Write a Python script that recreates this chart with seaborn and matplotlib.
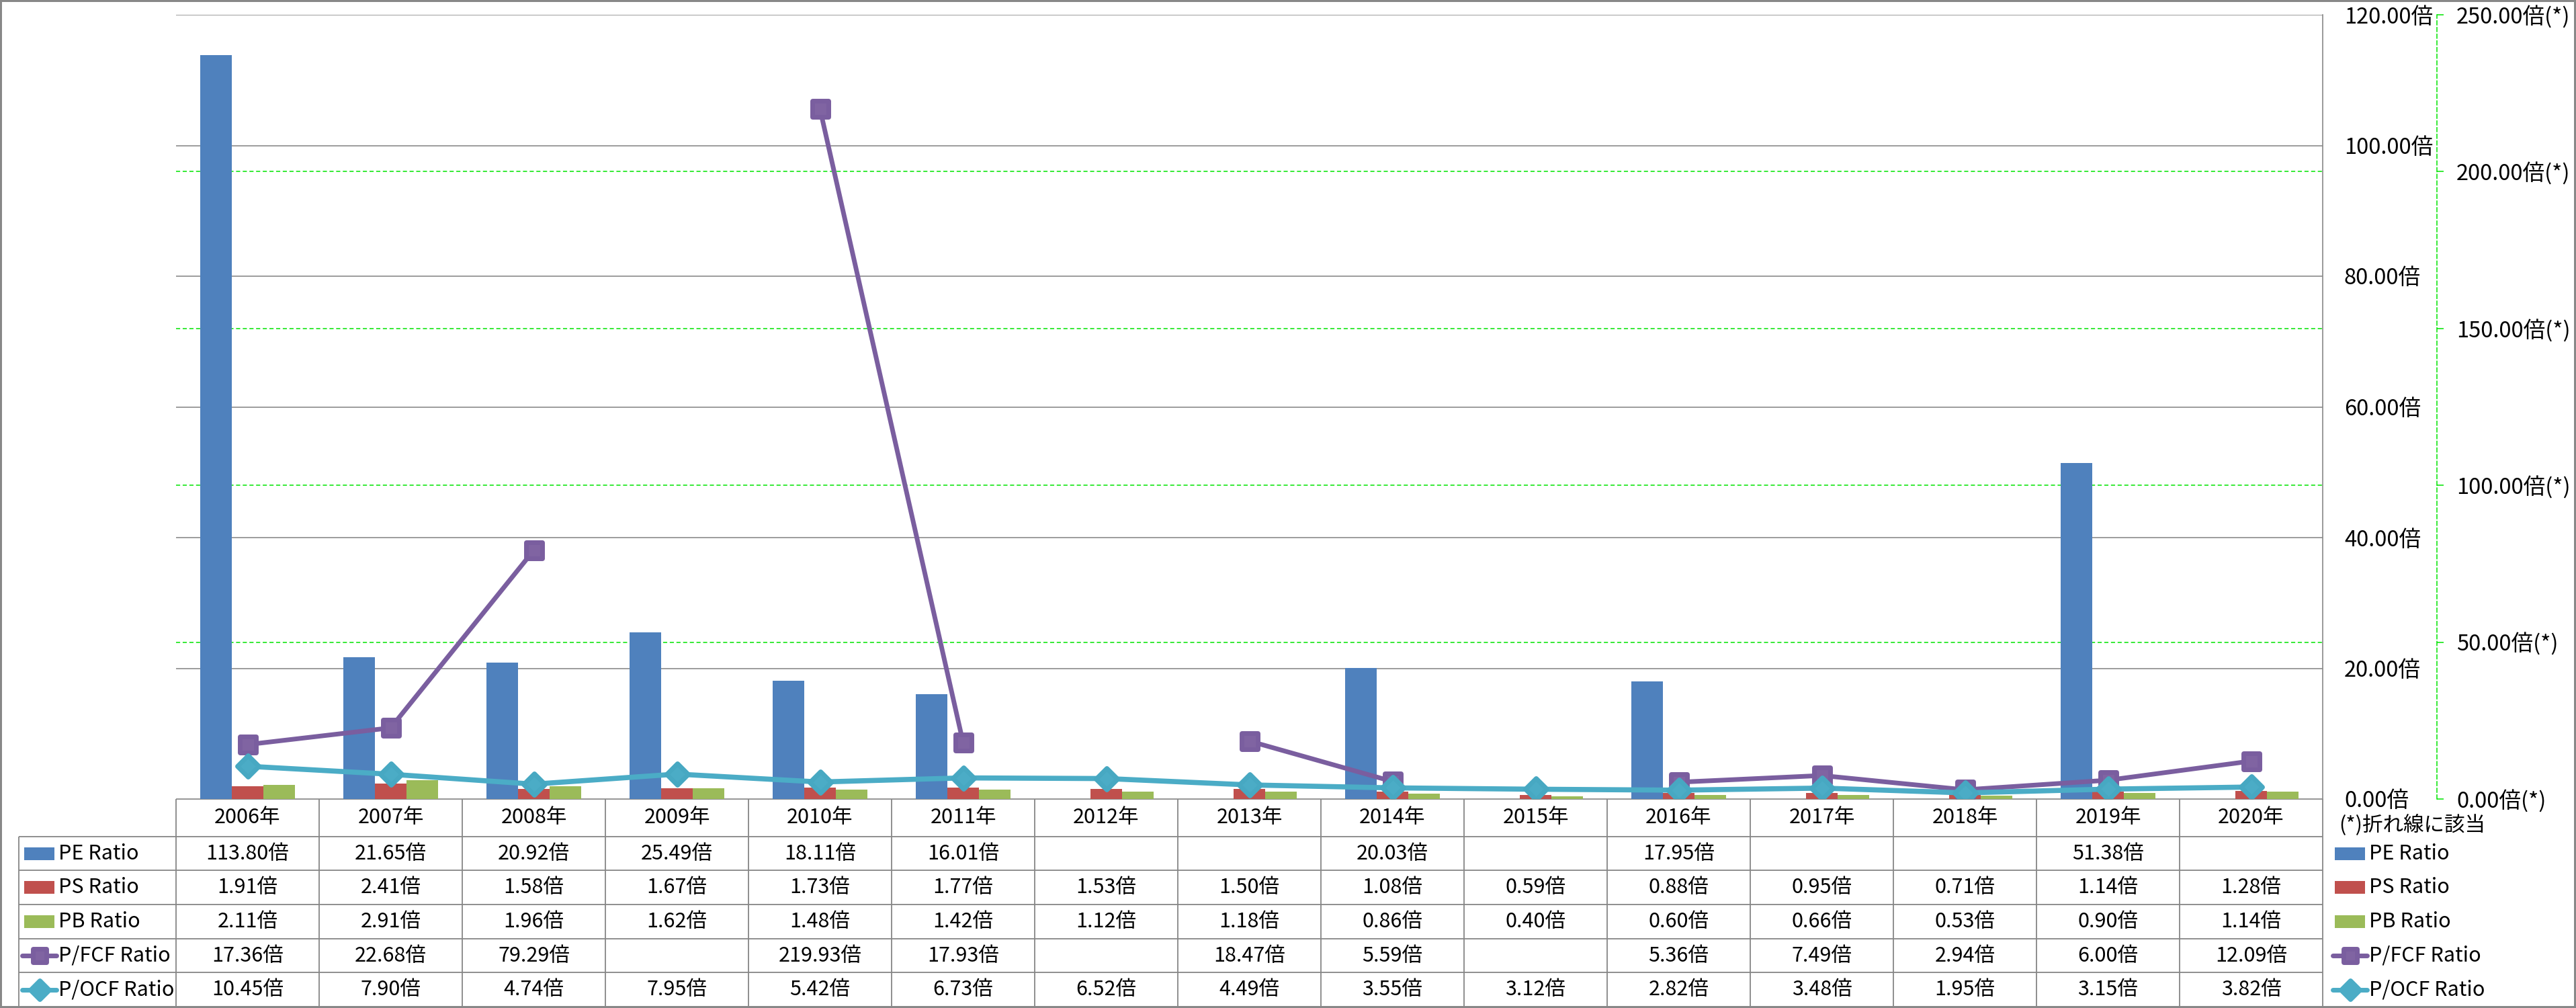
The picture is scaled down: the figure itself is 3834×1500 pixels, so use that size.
import numpy as np
import pandas as pd
import matplotlib
matplotlib.use("Agg")
import matplotlib.pyplot as plt
import seaborn as sns
from matplotlib.markers import MarkerStyle
from matplotlib.patches import Rectangle

# ---------------- data ----------------
years = ["2006年", "2007年", "2008年", "2009年", "2010年", "2011年", "2012年", "2013年",
         "2014年", "2015年", "2016年", "2017年", "2018年", "2019年", "2020年"]
nan = np.nan
pe_ratio = [113.80, 21.65, 20.92, 25.49, 18.11, 16.01, nan, nan, 20.03, nan, 17.95, nan, nan, 51.38, nan]
ps_ratio = [1.91, 2.41, 1.58, 1.67, 1.73, 1.77, 1.53, 1.50, 1.08, 0.59, 0.88, 0.95, 0.71, 1.14, 1.28]
pb_ratio = [2.11, 2.91, 1.96, 1.62, 1.48, 1.42, 1.12, 1.18, 0.86, 0.40, 0.60, 0.66, 0.53, 0.90, 1.14]
pfcf_ratio = [17.36, 22.68, 79.29, nan, 219.93, 17.93, nan, 18.47, 5.59, nan, 5.36, 7.49, 2.94, 6.00, 12.09]
pocf_ratio = [10.45, 7.90, 4.74, 7.95, 5.42, 6.73, 6.52, 4.49, 3.55, 3.12, 2.82, 3.48, 1.95, 3.15, 3.82]

series_names = ["PE Ratio", "PS Ratio", "PB Ratio", "P/FCF Ratio", "P/OCF Ratio"]
series_colors = ["#4F81BD", "#C0504D", "#9BBB59", "#8064A2", "#4BACC6"]
left_ticks = [0, 20, 40, 60, 80, 100, 120]
right_ticks = [0, 50, 100, 150, 200, 250]
note_text = "(*)折れ線に該当"

# ---------------- style ----------------
sns.set_theme(style="white")
plt.rcParams["font.family"] = ["Noto Sans CJK JP", "DejaVu Sans"]
FS_AX = 23.5
FS_TB = 22
GRAY = "#868686"
GREEN = "#00E400"

W, H = 3834, 1500
fig = plt.figure(figsize=(W / 100, H / 100), dpi=100)
fig.patch.set_facecolor("white")

def fx(px):
    return px / W

def fy(py):
    return 1 - py / H

L, R, T, B = 262, 3457, 22, 1189
ax = fig.add_axes([fx(L), fy(B), fx(R) - fx(L), fy(T) - fy(B)])
ax.patch.set_visible(False)

# ---------------- bars ----------------
bar_df = pd.DataFrame({
    "year": years * 3,
    "series": [n for n in series_names[:3] for _ in years],
    "value": pe_ratio + ps_ratio + pb_ratio,
}).dropna()

sns.barplot(data=bar_df, x="year", y="value", hue="series", order=years,
            hue_order=series_names[:3], palette=series_colors[:3], width=0.665,
            saturation=1, errorbar=None, linewidth=0, legend=False, ax=ax, zorder=3)

for v in left_ticks:
    ax.axhline(v, color=GRAY, lw=1.15, zorder=1)
for v in right_ticks[1:-1]:
    ax.axhline(v * left_ticks[-1] / right_ticks[-1], color=GREEN, lw=1.1,
               ls=(0, (4, 2.5)), zorder=1.5)

ax.set_xlim(-0.5, len(years) - 0.5)
ax.set_ylim(left_ticks[0], left_ticks[-1])
ax.set_xticks([])
ax.set_xlabel("")
ax.set_ylabel("")

# ---------------- lines (secondary axis) ----------------
ax2 = ax.twinx()
ax2.set_ylim(right_ticks[0], right_ticks[-1])
ax2.set_yticks(right_ticks)
ax2.set_yticklabels([f"{v:.2f}倍(*)" for v in right_ticks])
for s in ["left", "top", "bottom"]:
    ax2.spines[s].set_visible(False)
ax2.spines["right"].set_position(("axes", (3627 - L) / (R - L)))
ax2.spines["right"].set_color(GREEN)
ax2.spines["right"].set_linestyle((0, (4, 2.5)))
ax2.spines["right"].set_linewidth(1.1)
ax2.tick_params(axis="y", direction="out", length=7, width=1.1, color=GREEN,
                pad=14, labelsize=FS_AX, labelcolor="black")

# primary axis labels on the right (after twinx, which resets them to the left)
ax.yaxis.tick_right()
ax.set_yticks(left_ticks)
ax.set_yticklabels([f"{v:.2f}倍" for v in left_ticks])
ax.tick_params(axis="y", which="both", left=False, labelleft=False, right=True,
               labelright=True, length=0, pad=23, labelsize=FS_AX, labelcolor="black")
for s in ["left", "top", "bottom"]:
    ax.spines[s].set_visible(False)
ax.spines["right"].set_visible(True)
ax.spines["right"].set_color(GRAY)
ax.spines["right"].set_linewidth(1.2)

xpos = np.arange(len(years))
sq = MarkerStyle("s", joinstyle="round")
dm = MarkerStyle("D", joinstyle="round")
ax2.plot(xpos, np.array(pfcf_ratio), color="#7A5E9F", lw=5, marker=sq, ms=17, mew=5,
         mfc=series_colors[3], mec="#7A5E9F", zorder=4, solid_joinstyle="round")
ax2.plot(xpos, np.array(pocf_ratio), color=series_colors[4], lw=5.5, marker=dm, ms=16, mew=5,
         mfc=series_colors[4], mec="#47A8C2", zorder=5, solid_joinstyle="round")

# ---------------- data table ----------------
CW = (R - L) / len(years)
unit_px = (1498 - B) / 6.1
header_h = 1.1
tax = fig.add_axes([0, 0, 1, fy(B)])
tax.set_xlim(-0.5 - L / CW, -0.5 + (W - L) / CW)
tax.set_ylim((H - B) / unit_px, 0)
tax.axis("off")
tax.patch.set_visible(False)

x_lab = -0.5 - (L - 28) / CW
x_end = len(years) - 0.5
n_rows = len(series_names)
y_bottom = header_h + n_rows

tax.hlines(0, -0.5, x_end, color=GRAY, lw=1.3)
for k in range(n_rows + 1):
    tax.hlines(header_h + k, x_lab, x_end, color=GRAY, lw=1.3)
for i in range(len(years) + 1):
    tax.vlines(-0.5 + i, 0, y_bottom, color=GRAY, lw=1.3)
tax.vlines(x_lab, header_h, y_bottom, color=GRAY, lw=1.3)

for i, yr in enumerate(years):
    tax.text(i, header_h / 2, yr, ha="center", va="center", fontsize=FS_TB, color="black")

table_rows = [pe_ratio, ps_ratio, pb_ratio, pfcf_ratio, pocf_ratio]
for r, vals in enumerate(table_rows):
    yc = header_h + r + 0.5
    for i, v in enumerate(vals):
        if not np.isnan(v):
            tax.text(i, yc, f"{v:.2f}倍", ha="center", va="center", fontsize=FS_TB,
                     color="black")


def legend_entry(x0, yc, idx):
    """Legend key (swatch or line+marker) followed by its label."""
    if idx < 3:
        tax.add_patch(Rectangle((x0, yc - 9.5 / unit_px), 45 / CW, 19 / unit_px,
                                color=series_colors[idx], lw=0))
    else:
        xs = [x0 - 3 / CW, x0 + 48 / CW]
        col = "#7A5E9F" if idx == 3 else series_colors[4]
        tax.plot(xs, [yc, yc], color=col, lw=5, solid_capstyle="round")
        mk = sq if idx == 3 else dm
        tax.plot([(xs[0] + xs[1]) / 2], [yc], marker=mk, ms=15 if idx == 3 else 14, mew=5,
                 mfc=series_colors[idx], mec=col, ls="none")
    tax.text(x0 + 51 / CW, yc, series_names[idx], ha="left", va="center",
             fontsize=FS_TB, color="black")


for r in range(n_rows):
    yc = header_h + r + 0.5
    legend_entry(x_lab + 8 / CW, yc, r)
    legend_entry(x_end + 18 / CW, yc, r)

tax.text(x_end + 24 / CW, header_h / 2 + 11 / unit_px, note_text, ha="left", va="center",
         fontsize=FS_TB, color="black")

# ---------------- outer frame ----------------
fig.add_artist(Rectangle((0, 0), 1, 1, transform=fig.transFigure, fill=False,
                         ec="#888888", lw=4.3))

fig.savefig("out.png", dpi=100, facecolor="white")
